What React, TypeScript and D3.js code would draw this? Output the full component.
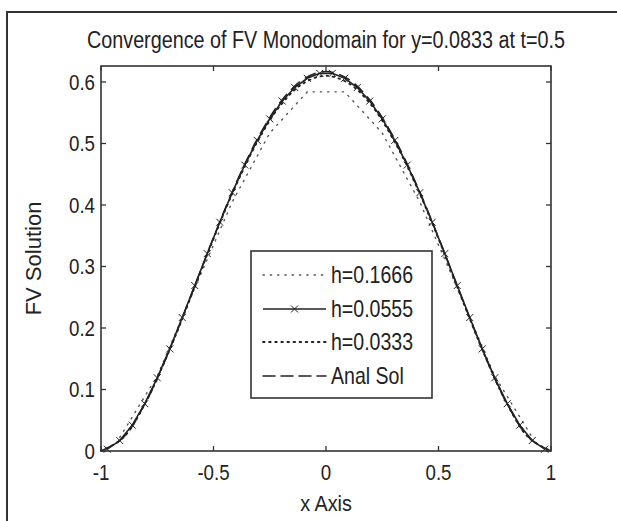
import React from "react";
import * as d3 from "d3";

const xTicks = [-1, -0.5, 0, 0.5, 1];
const xTickLabels = ["-1", "-0.5", "0", "0.5", "1"];
const yTicks = [0, 0.1, 0.2, 0.3, 0.4, 0.5, 0.6];
const yTickLabels = ["0", "0.1", "0.2", "0.3", "0.4", "0.5", "0.6"];

// h = 0.1666 (cell centres)
const h1666X = [-0.9167, -0.75, -0.5833, -0.4167, -0.25, -0.0833, 0.0833, 0.25, 0.4167, 0.5833, 0.75, 0.9167];
const h1666Y = [0.022, 0.122, 0.265, 0.405, 0.517, 0.584, 0.584, 0.517, 0.405, 0.265, 0.122, 0.022];

// h = 0.0555 (cell centres)
const h0555X = [-0.9722, -0.9167, -0.8611, -0.8056, -0.75, -0.6944, -0.6389, -0.5833, -0.5278, -0.4722, -0.4167, -0.3611, -0.3056, -0.25, -0.1944, -0.1389, -0.0833, -0.0278, 0.0278, 0.0833, 0.1389, 0.1944, 0.25, 0.3056, 0.3611, 0.4167, 0.4722, 0.5278, 0.5833, 0.6389, 0.6944, 0.75, 0.8056, 0.8611, 0.9167, 0.9722];
const h0555Y = [0.003, 0.017, 0.042, 0.077, 0.119, 0.166, 0.217, 0.269, 0.321, 0.372, 0.420, 0.465, 0.505, 0.540, 0.569, 0.591, 0.606, 0.614, 0.614, 0.606, 0.591, 0.569, 0.540, 0.505, 0.465, 0.420, 0.372, 0.321, 0.269, 0.217, 0.166, 0.119, 0.077, 0.042, 0.017, 0.003];

// h = 0.0333
const h0333X = [-1, -0.9, -0.8, -0.7, -0.6, -0.5, -0.4, -0.3, -0.2, -0.1, 0, 0.1, 0.2, 0.3, 0.4, 0.5, 0.6, 0.7, 0.8, 0.9, 1];
const h0333Y = [0, 0.022, 0.080, 0.160, 0.251, 0.345, 0.432, 0.506, 0.563, 0.598, 0.610, 0.598, 0.563, 0.506, 0.432, 0.345, 0.251, 0.160, 0.080, 0.022, 0];

// Analytical solution
const analX = [-1, -0.9, -0.8, -0.7, -0.6, -0.5, -0.4, -0.3, -0.2, -0.1, 0, 0.1, 0.2, 0.3, 0.4, 0.5, 0.6, 0.7, 0.8, 0.9, 1];
const analY = [0, 0.0223, 0.080, 0.1605, 0.2527, 0.3471, 0.4354, 0.5109, 0.5686, 0.6047, 0.617, 0.6047, 0.5686, 0.5109, 0.4354, 0.3471, 0.2527, 0.1605, 0.080, 0.0223, 0];

const legendLabels = ["h=0.1666", "h=0.0555", "h=0.0333", "Anal Sol"];

const FONT = "'Liberation Sans', Arial, sans-serif";
const INK = "#222";

function CText(props: { x: number; y: number; size: number; sx: number; anchor?: string; children: React.ReactNode }) {
  return (
    <text transform={`translate(${props.x},${props.y}) scale(${props.sx},1)`} textAnchor={props.anchor || "start"}
      fontFamily={FONT} fontSize={props.size} fill={INK}>{props.children}</text>
  );
}

export default function App() {
  const left = 101, right = 551, top = 66, bottom = 451;
  const x = d3.scaleLinear().domain([-1, 1]).range([left, right]);
  const y = d3.scaleLinear().domain([0, 0.626]).range([bottom, top]);

  const zip = (xs: number[], ys: number[]) => xs.map((v, i) => [v, ys[i]] as [number, number]);
  const linear = d3.line<[number, number]>().x(d => x(d[0])).y(d => y(d[1]));
  const smooth = d3.line<[number, number]>().x(d => x(d[0])).y(d => y(d[1])).curve(d3.curveCatmullRom);

  const p1666 = linear(zip(h1666X, h1666Y)) || "";
  const p0555 = linear(zip(h0555X, h0555Y)) || "";
  const p0333 = smooth(zip(h0333X, h0333Y)) || "";
  const pAnal = smooth(zip(analX, analY)) || "";

  const tl = 5;
  const ms = 3.5;

  const legX0 = 251, legY0 = 251, legW = 181, legH = 147;
  const rowY = [275, 309, 342, 376];
  const lineX1 = 263, lineX2 = 326, textX = 331;

  const styles = [
    { dash: "1.3 6", width: 1.4, color: "#555" },
    { dash: "", width: 1.6, color: INK },
    { dash: "1.6 4.5", width: 1.8, color: INK },
    { dash: "12 6", width: 1.5, color: INK },
  ];

  return (
    <svg width={617} height={521} style={{ position: "absolute", left: 0, top: 0, background: "#fff" }}>
      <rect x={0} y={0} width={617} height={521} fill="#fff" />
      <rect x={7} y={12} width={640} height={540} fill="none" stroke="#333" strokeWidth={2} />

      <CText x={(left + right) / 2} y={48} size={23} sx={0.86} anchor="middle">
        Convergence of FV Monodomain for y=0.0833 at t=0.5
      </CText>

      <path d={pAnal} fill="none" stroke={INK} strokeWidth={1.5} strokeDasharray="12 6" />
      <path d={p1666} fill="none" stroke="#555" strokeWidth={1.4} strokeDasharray="1.3 6" strokeLinecap="round" />
      <path d={p0333} fill="none" stroke={INK} strokeWidth={1.8} strokeDasharray="1.6 4.5" strokeLinecap="round" />
      <path d={p0555} fill="none" stroke={INK} strokeWidth={1.6} />
      {h0555X.map((v, i) => {
        const cx = x(v), cy = y(h0555Y[i]);
        return (
          <g key={"m" + i} stroke={INK} strokeWidth={1}>
            <line x1={cx - ms} y1={cy - ms} x2={cx + ms} y2={cy + ms} />
            <line x1={cx - ms} y1={cy + ms} x2={cx + ms} y2={cy - ms} />
          </g>
        );
      })}

      <rect x={left} y={top} width={right - left} height={bottom - top} fill="none" stroke="#333" strokeWidth={1.6} />

      {xTicks.map((t, i) => (
        <g key={"xt" + i}>
          <line x1={x(t)} x2={x(t)} y1={bottom} y2={bottom - tl} stroke="#333" strokeWidth={1.3} />
          <line x1={x(t)} x2={x(t)} y1={top} y2={top + tl} stroke="#333" strokeWidth={1.3} />
          <CText x={x(t)} y={480} size={22} sx={0.85} anchor="middle">{xTickLabels[i]}</CText>
        </g>
      ))}
      {yTicks.map((t, i) => (
        <g key={"yt" + i}>
          <line x1={left} x2={left + tl} y1={y(t)} y2={y(t)} stroke="#333" strokeWidth={1.3} />
          <line x1={right} x2={right - tl} y1={y(t)} y2={y(t)} stroke="#333" strokeWidth={1.3} />
          <CText x={left - 6} y={y(t) + 8} size={22} sx={0.85} anchor="end">{yTickLabels[i]}</CText>
        </g>
      ))}

      <CText x={(left + right) / 2} y={511} size={22} sx={0.9} anchor="middle">x Axis</CText>
      <text transform={`translate(41, ${(top + bottom) / 2}) rotate(-90)`} textAnchor="middle" fontFamily={FONT}
        fontSize={22} fill={INK}>FV Solution</text>

      <rect x={legX0} y={legY0} width={legW} height={legH} fill="#fff" stroke="#333" strokeWidth={1.6} />
      {legendLabels.map((lab, i) => (
        <g key={"lg" + i}>
          <line x1={lineX1} x2={lineX2} y1={rowY[i]} y2={rowY[i]} stroke={styles[i].color}
            strokeWidth={styles[i].width} strokeDasharray={styles[i].dash} strokeLinecap={styles[i].dash ? "round" : "butt"} />
          {i === 1 && (
            <g stroke={INK} strokeWidth={1}>
              <line x1={(lineX1 + lineX2) / 2 - ms} y1={rowY[i] - ms} x2={(lineX1 + lineX2) / 2 + ms} y2={rowY[i] + ms} />
              <line x1={(lineX1 + lineX2) / 2 - ms} y1={rowY[i] + ms} x2={(lineX1 + lineX2) / 2 + ms} y2={rowY[i] - ms} />
            </g>
          )}
          <CText x={textX} y={rowY[i] + 8} size={23} sx={0.85}>{lab}</CText>
        </g>
      ))}
    </svg>
  );
}
